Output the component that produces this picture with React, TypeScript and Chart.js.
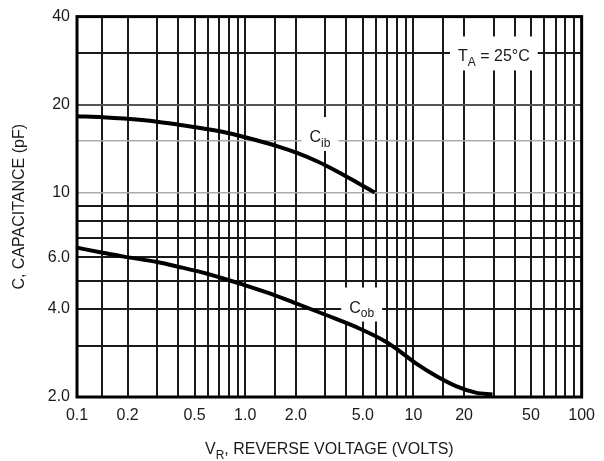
import { useEffect, useRef } from 'react';
import { Chart, registerables } from 'chart.js';

Chart.register(...registerables);

// ---- data ----
const cibVoltage = [0.1, 0.142, 0.19, 0.3, 0.4, 0.6, 0.8, 1.04, 1.56, 2.05, 2.69, 3.52, 4.62, 5.9];
const cibCapacitance = [18.25, 18.11, 17.92, 17.48, 17.08, 16.48, 15.97, 15.38, 14.4, 13.65, 12.78, 11.82, 10.84, 10.0];
const cobVoltage = [0.1, 0.142, 0.19, 0.3, 0.4, 0.6, 1.0, 1.37, 2.05, 3.08, 4.62, 6.94, 7.94, 10.4, 13.65, 17.9, 23.5, 29.5];
const cobCapacitance = [6.48, 6.23, 6.04, 5.79, 5.58, 5.27, 4.82, 4.54, 4.16, 3.8, 3.46, 3.08, 2.92, 2.6, 2.36, 2.18, 2.07, 2.04];

const xGridValues = [0.1, 0.14, 0.2, 0.3, 0.4, 0.5, 0.6, 0.7, 0.8, 0.9, 1, 1.5, 2, 3, 4, 5, 6, 7, 8, 9, 10, 15, 20, 30, 40, 50, 60, 70, 80, 90, 100];
const xLabelValues = [0.1, 0.2, 0.5, 1, 2, 5, 10, 20, 50, 100];
const xTickLabels = ['0.1', '0.2', '0.5', '1.0', '2.0', '5.0', '10', '20', '50', '100'];

const yGridValues = [2, 3, 4, 5, 6, 7, 8, 9, 10, 15, 20, 30, 40];
const yLabelValues = [2, 4, 6, 10, 20, 40];
const yTickLabels = ['2.0', '4.0', '6.0', '10', '20', '40'];

const yLightGrid = [10, 15];
const yMidGrid = [20];

const FONT = "'Liberation Sans', Arial, Helvetica, sans-serif";
const INK = '#1a1a1a';

type Part = { text: string; sub?: boolean };
const annotations: { x: number; y: number; parts: Part[] }[] = [
  { x: 2.41, y: 14.9, parts: [{ text: 'C' }, { text: 'ib', sub: true }] },
  { x: 4.15, y: 3.89, parts: [{ text: 'C' }, { text: 'ob', sub: true }] },
  { x: 18.4, y: 28.1, parts: [{ text: 'T' }, { text: 'A', sub: true }, { text: ' = 25°C' }] },
];

function near(a: number, b: number) {
  return Math.abs(a - b) < 1e-9 * Math.max(1, Math.abs(b));
}
function labelFor(v: number, values: number[], labels: string[]) {
  const i = values.findIndex((w) => near(v, w));
  return i >= 0 ? labels[i] : '';
}

function drawRich(ctx: CanvasRenderingContext2D, parts: Part[], x: number, y: number, size: number, doDraw = true) {
  let cx = x;
  for (const p of parts) {
    const fs = p.sub ? Math.round(size * 0.72) : size;
    ctx.font = `${fs}px ${FONT}`;
    if (doDraw) ctx.fillText(p.text, cx, y + (p.sub ? size * 0.3 : 0));
    cx += ctx.measureText(p.text).width;
  }
  return cx - x;
}

const notesPlugin = {
  id: 'notes',
  beforeDatasetsDraw(chart: any) {
    const ctx: CanvasRenderingContext2D = chart.ctx;
    const xs = chart.scales.x;
    const ys = chart.scales.y;
    ctx.save();
    ctx.textAlign = 'left';
    ctx.textBaseline = 'alphabetic';
    for (const a of annotations) {
      const px = xs.getPixelForValue(a.x);
      const py = ys.getPixelForValue(a.y);
      const w = drawRich(ctx, a.parts, px, py, 16, false);
      ctx.fillStyle = '#fff';
      ctx.fillRect(px - 8, py - 25, w + 16, 34);
      ctx.fillStyle = INK;
      drawRich(ctx, a.parts, px, py, 16, true);
    }
    ctx.restore();
  },
  afterDraw(chart: any) {
    const ctx: CanvasRenderingContext2D = chart.ctx;
    const { left, right, top, bottom } = chart.chartArea;
    ctx.save();
    // frame
    ctx.strokeStyle = '#000';
    ctx.lineWidth = 3;
    ctx.strokeRect(left, top, right - left, bottom - top);
    // x title
    ctx.fillStyle = INK;
    ctx.textBaseline = 'alphabetic';
    ctx.textAlign = 'left';
    const xParts: Part[] = [{ text: 'V' }, { text: 'R', sub: true }, { text: ', REVERSE VOLTAGE (VOLTS)' }];
    const w = drawRich(ctx, xParts, 0, 0, 16, false);
    drawRich(ctx, xParts, (left + right) / 2 - w / 2, 454, 16, true);
    // y title
    ctx.font = `16px ${FONT}`;
    ctx.translate(24, (top + bottom) / 2);
    ctx.rotate(-Math.PI / 2);
    ctx.textAlign = 'center';
    ctx.fillText('C, CAPACITANCE (pF)', 0, 0);
    ctx.restore();
  },
};

export default function App() {
  const ref = useRef<HTMLCanvasElement | null>(null);

  useEffect(() => {
    if (!ref.current) return;
    const chart = new Chart(ref.current, {
      type: 'line',
      data: {
        datasets: [
          {
            label: 'Cib',
            data: cibVoltage.map((v, i) => ({ x: v, y: cibCapacitance[i] })),
            borderColor: '#000',
            borderWidth: 4,
            pointRadius: 0,
            cubicInterpolationMode: 'monotone',
            fill: false,
          },
          {
            label: 'Cob',
            data: cobVoltage.map((v, i) => ({ x: v, y: cobCapacitance[i] })),
            borderColor: '#000',
            borderWidth: 4,
            pointRadius: 0,
            cubicInterpolationMode: 'monotone',
            fill: false,
          },
        ],
      },
      options: {
        animation: false,
        responsive: false,
        devicePixelRatio: 1,
        layout: { padding: { top: 16, right: 17, left: 0, bottom: 0 } },
        plugins: { legend: { display: false }, tooltip: { enabled: false } },
        scales: {
          x: {
            type: 'logarithmic',
            min: 0.1,
            max: 100,
            afterBuildTicks: (s: any) => {
              s.ticks = xGridValues.map((v) => ({ value: v }));
            },
            afterFit: (s: any) => {
              s.height = 64;
            },
            ticks: {
              autoSkip: false,
              maxRotation: 0,
              minRotation: 0,
              padding: 9,
              color: INK,
              font: { family: FONT, size: 16 },
              callback: (v: any) => labelFor(Number(v), xLabelValues, xTickLabels),
            },
            grid: {
              drawTicks: false,
              color: '#1a1a1a',
              lineWidth: 2,
            },
            border: { display: false },
          },
          y: {
            type: 'logarithmic',
            min: 2,
            max: 40,
            afterBuildTicks: (s: any) => {
              s.ticks = yGridValues.map((v) => ({ value: v }));
            },
            afterFit: (s: any) => {
              s.width = 77;
            },
            ticks: {
              autoSkip: false,
              padding: 7,
              color: INK,
              font: { family: FONT, size: 16 },
              callback: (v: any) => labelFor(Number(v), yLabelValues, yTickLabels),
            },
            grid: {
              drawTicks: false,
              color: (c: any) => {
                const v = c.tick?.value;
                if (yLightGrid.some((w) => near(v, w))) return '#aaaaaa';
                if (yMidGrid.some((w) => near(v, w))) return '#555555';
                return '#1a1a1a';
              },
              lineWidth: (c: any) => {
                const v = c.tick?.value;
                if (yLightGrid.some((w) => near(v, w))) return 1.5;
                return 2;
              },
            },
            border: { display: false },
          },
        },
      } as any,
      plugins: [notesPlugin],
    });
    return () => chart.destroy();
  }, []);

  return (
    <canvas
      ref={ref}
      width={604}
      height={461}
      style={{ position: 'fixed', left: 0, top: 0, width: 604, height: 461, display: 'block', background: '#fff' }}
    />
  );
}
